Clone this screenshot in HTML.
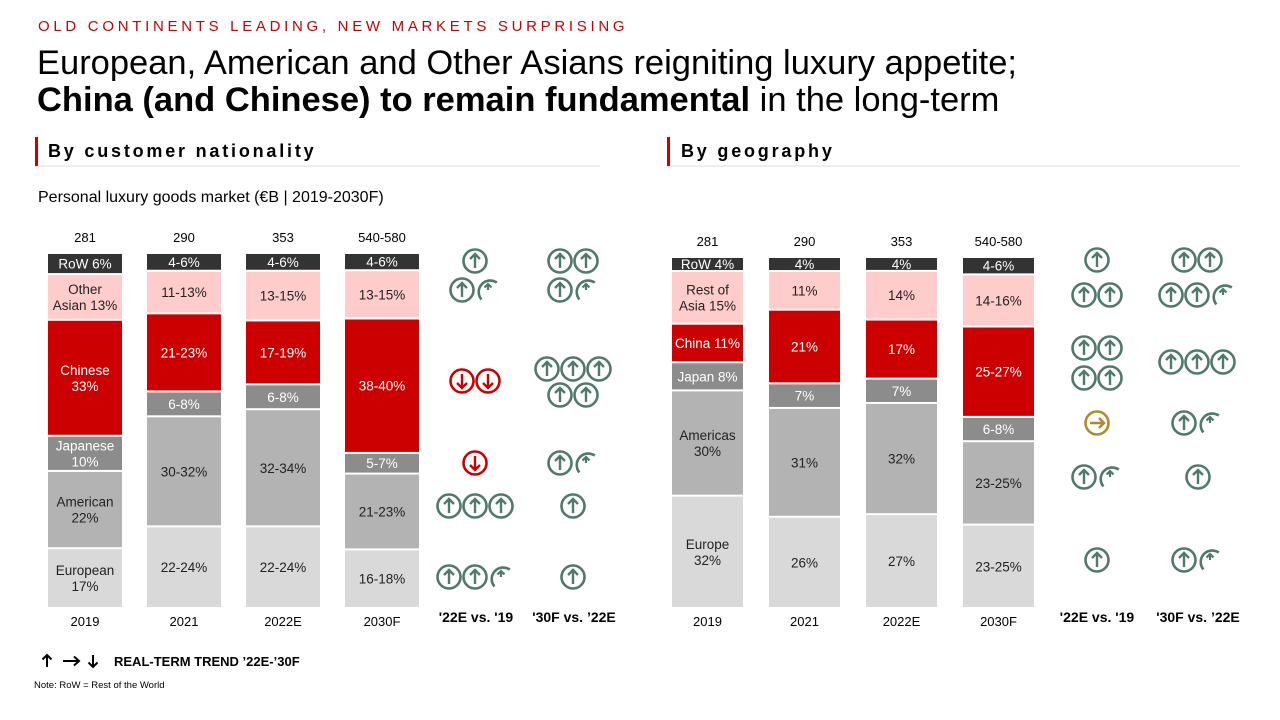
<!DOCTYPE html>
<html><head><meta charset="utf-8"><style>
body{margin:0;background:#fff;}
svg{display:block;font-family:"Liberation Sans",Arial,sans-serif;}
</style></head><body>
<svg id="s" width="1280" height="720" viewBox="0 0 1280 720" xmlns="http://www.w3.org/2000/svg">
<text x="38" y="31" font-size="15" fill="#cc0000" letter-spacing="3.7">OLD CONTINENTS LEADING, NEW MARKETS SURPRISING</text>
<text x="37" y="74" font-size="34.5" fill="#000">European, American and Other Asians reigniting luxury appetite;</text>
<text x="37" y="111" font-size="34.5" fill="#000"><tspan font-weight="bold">China (and Chinese) to remain fundamental</tspan> in the long-term</text>
<rect x="35" y="137" width="3" height="29" fill="#cc0000"/>
<text x="48" y="157" font-size="18" font-weight="bold" letter-spacing="2.8">By customer nationality</text>
<line x1="38" y1="166" x2="600" y2="166" stroke="#ddd" stroke-width="1"/>
<rect x="667" y="137" width="3" height="29" fill="#cc0000"/>
<text x="681" y="157" font-size="18" font-weight="bold" letter-spacing="2.8">By geography</text>
<line x1="670" y1="166" x2="1240" y2="166" stroke="#ddd" stroke-width="1"/>
<text x="38" y="202" font-size="16">Personal luxury goods market (€B | 2019-2030F)</text>
<g id="charts"></g>
<g id="icons"></g>
<text x="476" y="622" font-size="14" font-weight="bold" text-anchor="middle">'22E vs. '19</text>
<text x="574" y="622" font-size="14" font-weight="bold" text-anchor="middle">'30F vs. ’22E</text>
<text x="1097" y="622" font-size="14" font-weight="bold" text-anchor="middle">'22E vs. '19</text>
<text x="1198" y="622" font-size="14" font-weight="bold" text-anchor="middle">'30F vs. ’22E</text>
<g fill="none" stroke="#000" stroke-width="2">
<path d="M47 667 L47 655 M42.5 659.5 L47 655 L51.5 659.5"/>
<path d="M63 661 L79 661 M74 656.5 L79 661 L74 665.5"/>
<path d="M93 655 L93 667 M88.5 662.5 L93 667 L97.5 662.5"/>
</g>
<text x="114" y="666" font-size="13" font-weight="bold">REAL-TERM TREND ’22E-’30F</text>
<text x="34" y="688" font-size="9.5">Note: RoW = Rest of the World</text>
</svg>
<script>
const NS="http://www.w3.org/2000/svg";
const colors=["#333333","#ffcccc","#cc0000","#8c8c8c","#b3b3b3","#d9d9d9"];
const textCol=["#fff","#222","#fff","#fff","#222","#222"];
const yearsL=["2019","2021","2022E","2030F"];
const totalsL=["281","290","353","540-580"];
const valuesL=[[6,13,33,10,22,17],[5,12,22,7,31,23],[5,14,18,7,33,23],[5,14,39,6,22,17]];
const labelsL=[["RoW 6%","Other\nAsian 13%","Chinese\n33%","Japanese\n10%","American\n22%","European\n17%"],
["4-6%","11-13%","21-23%","6-8%","30-32%","22-24%"],
["4-6%","13-15%","17-19%","6-8%","32-34%","22-24%"],
["4-6%","13-15%","38-40%","5-7%","21-23%","16-18%"]];
const yearsR=["2019","2021","2022E","2030F"];
const totalsR=["281","290","353","540-580"];
const valuesR=[[4,15,11,8,30,32],[4,11,21,7,31,26],[4,14,17,7,32,27],[5,15,26,7,24,24]];
const labelsR=[["RoW 4%","Rest of\nAsia 15%","China 11%","Japan 8%","Americas\n30%","Europe\n32%"],
["4%","11%","21%","7%","31%","26%"],["4%","14%","17%","7%","32%","27%"],["4-6%","14-16%","25-27%","6-8%","23-25%","23-25%"]];
const g=document.getElementById("charts");
function el(t,a,p){const e=document.createElementNS(NS,t);for(const k in a)e.setAttribute(k,a[k]);(p||g).appendChild(e);return e;}
function drawChart(prefix,x0,step,bw,top,bottom,years,totals,values,labels){
  const H=bottom-top;
  const xPos=i=>x0+i*step;
  values.forEach((vals,i)=>{
    const sum=vals.reduce((a,b)=>a+b,0);
    const yScale=v=>v/sum*H;
    let y=top;
    const tt=el("text",{x:xPos(i)+bw/2,y:top-12,"font-size":13,"text-anchor":"middle"});
    tt.textContent=totals[i];
    
    
    vals.forEach((v,j)=>{
      const h=yScale(v);
      const r=el("rect",{x:xPos(i),y:y,width:bw,height:Math.max(h-2,1),fill:colors[j]});
      
      
      const lines=labels[i][j].split("\n");
      const cy=y+(h-2)/2;
      lines.forEach((ln,k)=>{
        const t=el("text",{x:xPos(i)+bw/2,y:cy+5+(k-(lines.length-1)/2)*16,"font-size":13.5,"text-anchor":"middle",fill:textCol[j]});
        t.textContent=ln;
        
        
      });
      y+=h;
    });
    const yt=el("text",{x:xPos(i)+bw/2,y:bottom+17,"font-size":13,"text-anchor":"middle"});
    yt.textContent=years[i];
    
    
  });
}
drawChart("left",48,99,74,254,609,yearsL,totalsL,valuesL,labelsL);
drawChart("right",672,97,71,258,609,yearsR,totalsR,valuesR,labelsR);

const ig=document.getElementById("icons");
const G="#4f7a6b",R="#cc0000",Y="#b08a2e";
function icon(cx,cy,type){
  const grp=el("g",{},ig);
  
  
  const c=type==="down"?R:(type==="right"?Y:G);
  const sw=2.6, r=11.5;
  if(type==="half"){
    const a1=125*Math.PI/180,a2=-40*Math.PI/180;
    const sx=cx+r*Math.cos(a1),sy=cy+r*Math.sin(a1),ex=cx+r*Math.cos(a2),ey=cy+r*Math.sin(a2);
    el("path",{d:`M${sx} ${sy} A${r} ${r} 0 0 1 ${ex} ${ey}`,fill:"none",stroke:c,"stroke-width":sw},grp);
    el("path",{d:`M${cx} ${cy-6} L${cx} ${cy} M${cx-3.5} ${cy-2.5} L${cx} ${cy-6} L${cx+3.5} ${cy-2.5}`,fill:"none",stroke:c,"stroke-width":2.2},grp);
    return;
  }
  el("circle",{cx:cx,cy:cy,r:r,fill:"none",stroke:c,"stroke-width":sw},grp);
  let d;
  if(type==="up")d=`M${cx} ${cy+7} L${cx} ${cy-7} M${cx-5} ${cy-2} L${cx} ${cy-7} L${cx+5} ${cy-2}`;
  else if(type==="down")d=`M${cx} ${cy-7} L${cx} ${cy+7} M${cx-5} ${cy+2} L${cx} ${cy+7} L${cx+5} ${cy+2}`;
  else d=`M${cx-7} ${cy} L${cx+7} ${cy} M${cx+2} ${cy-5} L${cx+7} ${cy} L${cx+2} ${cy+5}`;
  el("path",{d:d,fill:"none",stroke:c,"stroke-width":2.4},grp);
}
const iconRows=[
[475,261,"up"],[560,261,"up"],[586,261,"up"],
[462,290,"up"],[488,290,"half"],[560,290,"up"],[586,290,"half"],
[462,381,"down"],[488,381,"down"],[547,369,"up"],[573,369,"up"],[599,369,"up"],[560,395,"up"],[586,395,"up"],
[475,463,"down"],[560,463,"up"],[586,463,"half"],
[449,506,"up"],[475,506,"up"],[501,506,"up"],[573,506,"up"],
[449,577,"up"],[475,577,"up"],[501,577,"half"],[573,577,"up"],
[1097,260,"up"],[1184,260,"up"],[1210,260,"up"],
[1084,295,"up"],[1110,295,"up"],[1171,295,"up"],[1197,295,"up"],[1223,295,"half"],
[1084,348,"up"],[1110,348,"up"],[1084,378,"up"],[1110,378,"up"],[1171,362,"up"],[1197,362,"up"],[1223,362,"up"],
[1097,423,"right"],[1184,423,"up"],[1210,423,"half"],
[1084,477,"up"],[1110,477,"half"],[1198,477,"up"],
[1097,560,"up"],[1184,560,"up"],[1210,560,"half"]];
iconRows.forEach(a=>icon(a[0],a[1],a[2]));
</script>
</body></html>
